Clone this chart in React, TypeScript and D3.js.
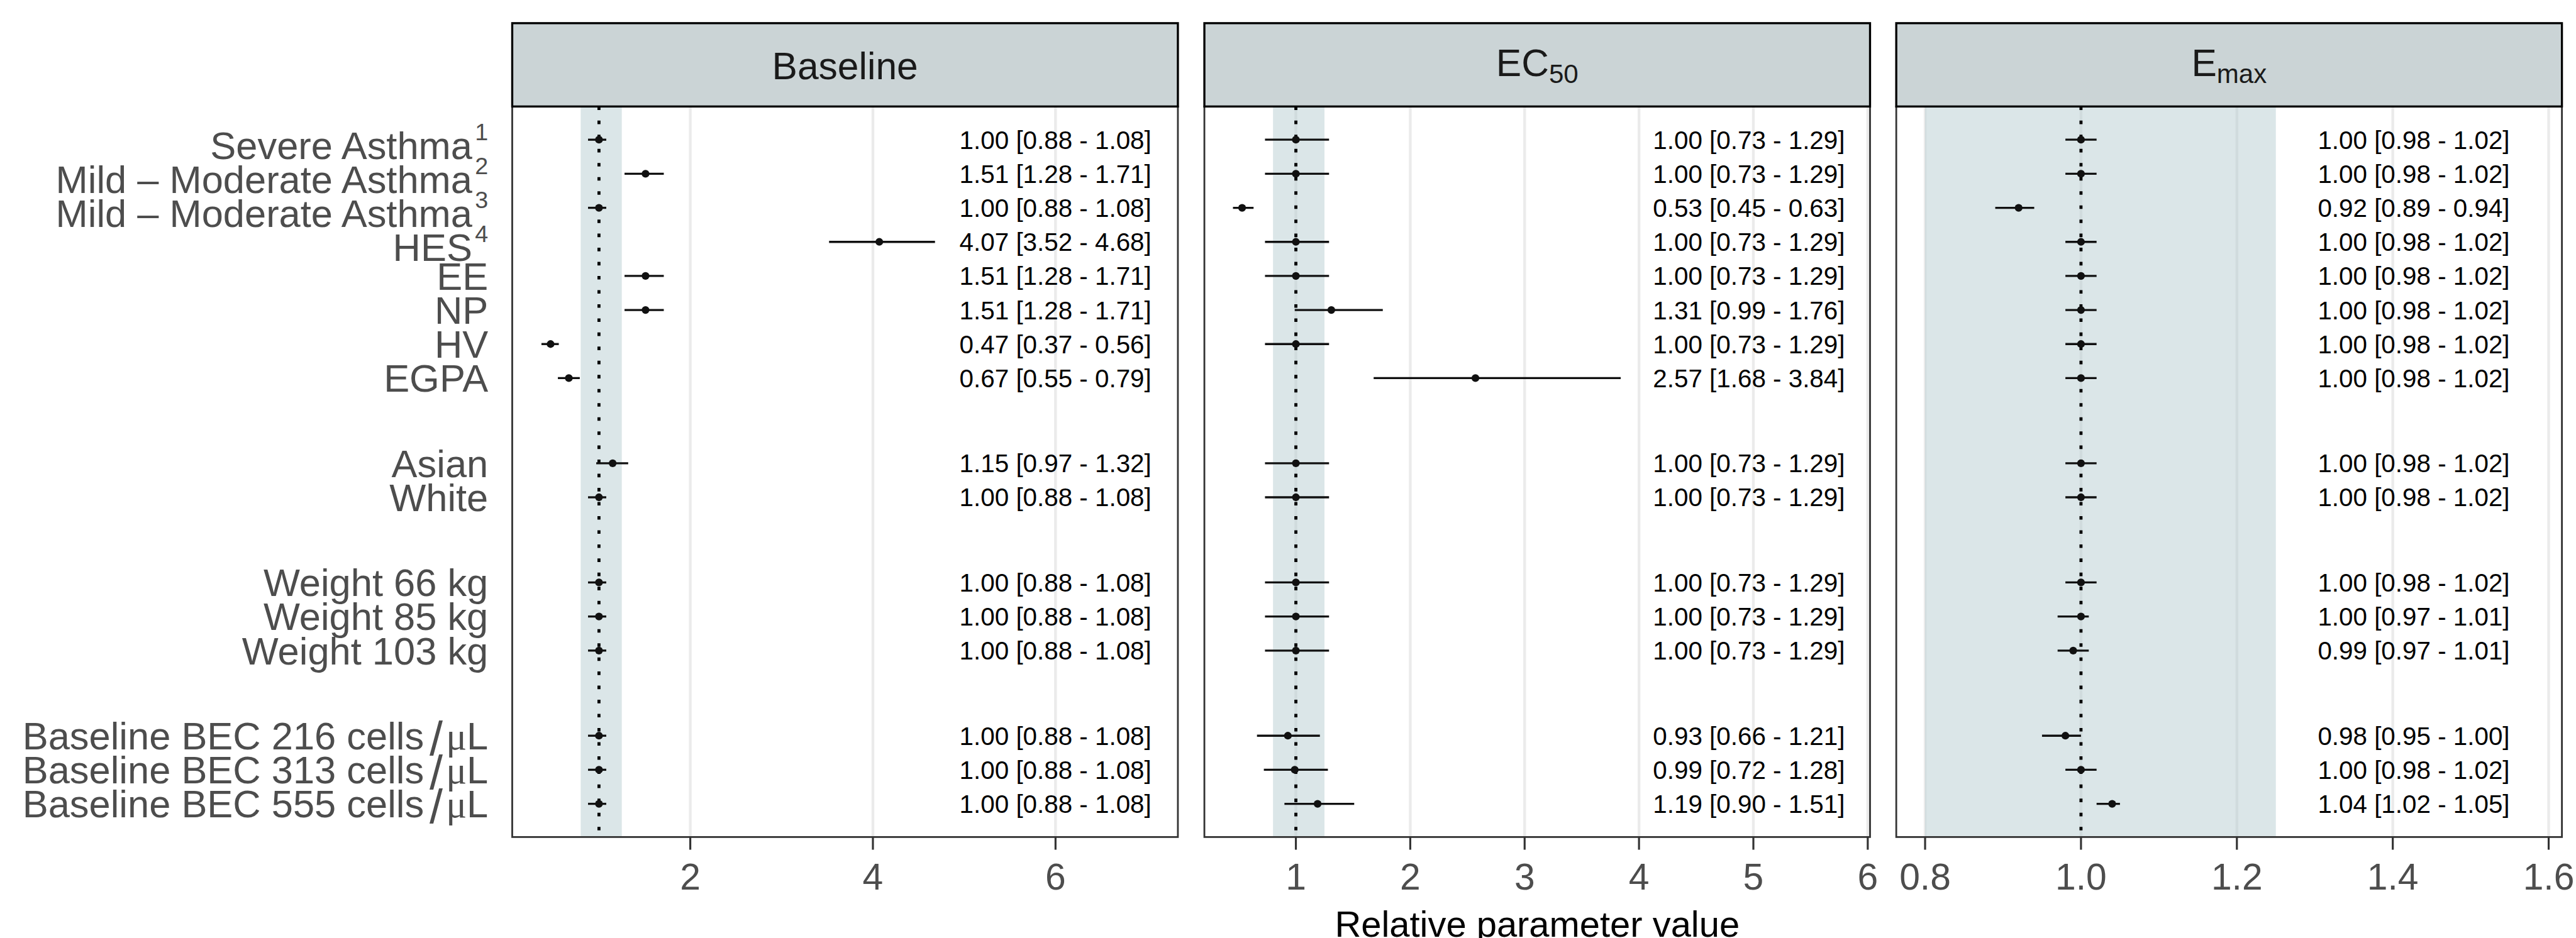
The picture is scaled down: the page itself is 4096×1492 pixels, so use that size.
import React from 'react';
import * as d3 from 'd3';

// rows (top to bottom), with gaps between covariate groups
const rowLabels = [
  'Severe Asthma', 'Mild – Moderate Asthma', 'Mild – Moderate Asthma', 'HES',
  'EE', 'NP', 'HV', 'EGPA',
  'Asian', 'White',
  'Weight 66 kg', 'Weight 85 kg', 'Weight 103 kg',
  'Baseline BEC 216 cells', 'Baseline BEC 313 cells', 'Baseline BEC 555 cells',
];
const rowSuperscripts = ['1', '2', '3', '4', '', '', '', '', '', '', '', '', '', '', '', ''];
const rowUnits = ['', '', '', '', '', '', '', '', '', '', '', '', '', 'μL', 'μL', 'μL'];
const rowPositions = [1, 2, 3, 4, 5, 6, 7, 8, 10.5, 11.5, 14, 15, 16, 18.5, 19.5, 20.5];

const baselineMedian = [1.00, 1.51, 1.00, 4.07, 1.51, 1.51, 0.47, 0.67, 1.15, 1.00, 1.00, 1.00, 1.00, 1.00, 1.00, 1.00];
const baselineLower = [0.88, 1.28, 0.88, 3.52, 1.28, 1.28, 0.37, 0.55, 0.97, 0.88, 0.88, 0.88, 0.88, 0.88, 0.88, 0.88];
const baselineUpper = [1.08, 1.71, 1.08, 4.68, 1.71, 1.71, 0.56, 0.79, 1.32, 1.08, 1.08, 1.08, 1.08, 1.08, 1.08, 1.08];

const ec50Median = [1.00, 1.00, 0.53, 1.00, 1.00, 1.31, 1.00, 2.57, 1.00, 1.00, 1.00, 1.00, 1.00, 0.93, 0.99, 1.19];
const ec50Lower = [0.73, 0.73, 0.45, 0.73, 0.73, 0.99, 0.73, 1.68, 0.73, 0.73, 0.73, 0.73, 0.73, 0.66, 0.72, 0.90];
const ec50Upper = [1.29, 1.29, 0.63, 1.29, 1.29, 1.76, 1.29, 3.84, 1.29, 1.29, 1.29, 1.29, 1.29, 1.21, 1.28, 1.51];

const emaxMedian = [1.00, 1.00, 0.92, 1.00, 1.00, 1.00, 1.00, 1.00, 1.00, 1.00, 1.00, 1.00, 0.99, 0.98, 1.00, 1.04];
const emaxLower = [0.98, 0.98, 0.89, 0.98, 0.98, 0.98, 0.98, 0.98, 0.98, 0.98, 0.98, 0.97, 0.97, 0.95, 0.98, 1.02];
const emaxUpper = [1.02, 1.02, 0.94, 1.02, 1.02, 1.02, 1.02, 1.02, 1.02, 1.02, 1.02, 1.01, 1.01, 1.00, 1.02, 1.05];

const panelTitles = ['Baseline', 'EC', 'E'];
const panelSubscripts = ['', '50', 'max'];
const baselineTicks = [2, 4, 6];
const ec50Ticks = [1, 2, 3, 4, 5, 6];
const emaxTicks = [0.8, 1.0, 1.2, 1.4, 1.6];
const refBand = [0.8, 1.25];
const axisTitle = 'Relative parameter value';

// layout in reference pixels; the viewBox scales it down to the window
const W = 4666;
const H = 1700;
const panelLefts = [927.5, 2181.5, 3435];
const panelW = 1206;
const stripTop = 42;
const stripBottom = 193;
const panelTop = 193;
const panelBottom = 1517;
const labelRight = 884;

const panels = [
  { median: baselineMedian, lower: baselineLower, upper: baselineUpper, ticks: baselineTicks, domain: [0.05, 7.34], textAt: 7.05, fmt: d3.format('d') },
  { median: ec50Median, lower: ec50Lower, upper: ec50Upper, ticks: ec50Ticks, domain: [0.2, 6.02], textAt: 5.8, fmt: d3.format('d') },
  { median: emaxMedian, lower: emaxLower, upper: emaxUpper, ticks: emaxTicks, domain: [0.763, 1.617], textAt: 1.55, fmt: d3.format('.1f') },
];

const f2 = d3.format('.2f');

export default function App() {
  const [p0, p1] = d3.extent(rowPositions) as [number, number];
  const pad = (p1 - p0) * 0.05;
  const y = d3.scaleLinear().domain([p0 - pad, p1 + pad]).range([panelTop, panelBottom]);

  return (
    <svg
      width={4096}
      height={1492}
      viewBox={`0 0 ${W} ${H}`}
      style={{ position: 'absolute', left: 0, top: 0, display: 'block' }}
      fontFamily="'Liberation Sans', Arial, sans-serif"
    >
      <rect width={W} height={H} fill="#fff" />

      {/* y axis labels */}
      {rowLabels.map((lab, i) => {
        const sup = rowSuperscripts[i];
        const unit = rowUnits[i];
        const base = y(rowPositions[i]) + 24.8 + (sup ? 10 : 0);
        return (
          <text key={i} x={labelRight} y={base} textAnchor="end" fontSize={70} fill="#4D4D4D">
            {lab}
            {unit && (
              <>
                <tspan dx={10} dy={10} fontSize={86}>/</tspan>
                <tspan dx={6} dy={-10} fontFamily="'Liberation Serif', serif">μ</tspan>
                <tspan>L</tspan>
              </>
            )}
            {sup && <tspan dx={5} dy={-34} fontSize={43}>{sup}</tspan>}
          </text>
        );
      })}

      {panels.map((p, k) => {
        const left = panelLefts[k];
        const x = d3.scaleLinear().domain(p.domain).range([left, left + panelW]);
        const cx = left + panelW / 2;
        return (
          <g key={k}>
            {/* grid */}
            {p.ticks.map(t => (
              <line key={t} x1={x(t)} x2={x(t)} y1={panelTop} y2={panelBottom} stroke="#EBEBEB" strokeWidth={5} />
            ))}
            {/* reference band */}
            <rect
              x={x(refBand[0])}
              width={x(refBand[1]) - x(refBand[0])}
              y={panelTop}
              height={panelBottom - panelTop}
              fill="rgb(175,199,204)"
              fillOpacity={0.45}
            />
            {/* reference line */}
            <line x1={x(1)} x2={x(1)} y1={panelTop} y2={panelBottom} stroke="#000" strokeWidth={5.5} strokeDasharray="6.4 19.2" />
            {/* ranges and points */}
            {rowPositions.map((pos, i) => (
              <g key={i}>
                <line x1={x(p.lower[i])} x2={x(p.upper[i])} y1={y(pos)} y2={y(pos)} stroke="#111" strokeWidth={3.8} />
                <circle cx={x(p.median[i])} cy={y(pos)} r={7} fill="#111" />
                <text x={x(p.textAt)} y={y(pos) + 16.5} textAnchor="end" fontSize={46} fill="#000">
                  {`${f2(p.median[i])} [${f2(p.lower[i])} - ${f2(p.upper[i])}]`}
                </text>
              </g>
            ))}
            {/* panel border */}
            <rect x={left} y={panelTop} width={panelW} height={panelBottom - panelTop} fill="none" stroke="#333" strokeWidth={3.2} />
            {/* strip */}
            <rect x={left} y={stripTop} width={panelW} height={stripBottom - stripTop} fill="#CBD4D6" stroke="#000" strokeWidth={3.8} />
            <text x={cx} y={panelSubscripts[k] ? 138 : 143.7} textAnchor="middle" fontSize={69} fill="#1A1A1A">
              {panelTitles[k]}
              {panelSubscripts[k] && <tspan dy={12} fontSize={48}>{panelSubscripts[k]}</tspan>}
            </text>
            {/* x axis */}
            {p.ticks.map(t => (
              <g key={t}>
                <line x1={x(t)} x2={x(t)} y1={panelBottom} y2={panelBottom + 23} stroke="#333" strokeWidth={3.6} />
                <text x={x(t)} y={1612} textAnchor="middle" fontSize={67} fill="#4D4D4D">{p.fmt(t)}</text>
              </g>
            ))}
          </g>
        );
      })}

      <text x={panelLefts[1] + panelW / 2} y={1698} textAnchor="middle" fontSize={66} fill="#000">{axisTitle}</text>
    </svg>
  );
}
